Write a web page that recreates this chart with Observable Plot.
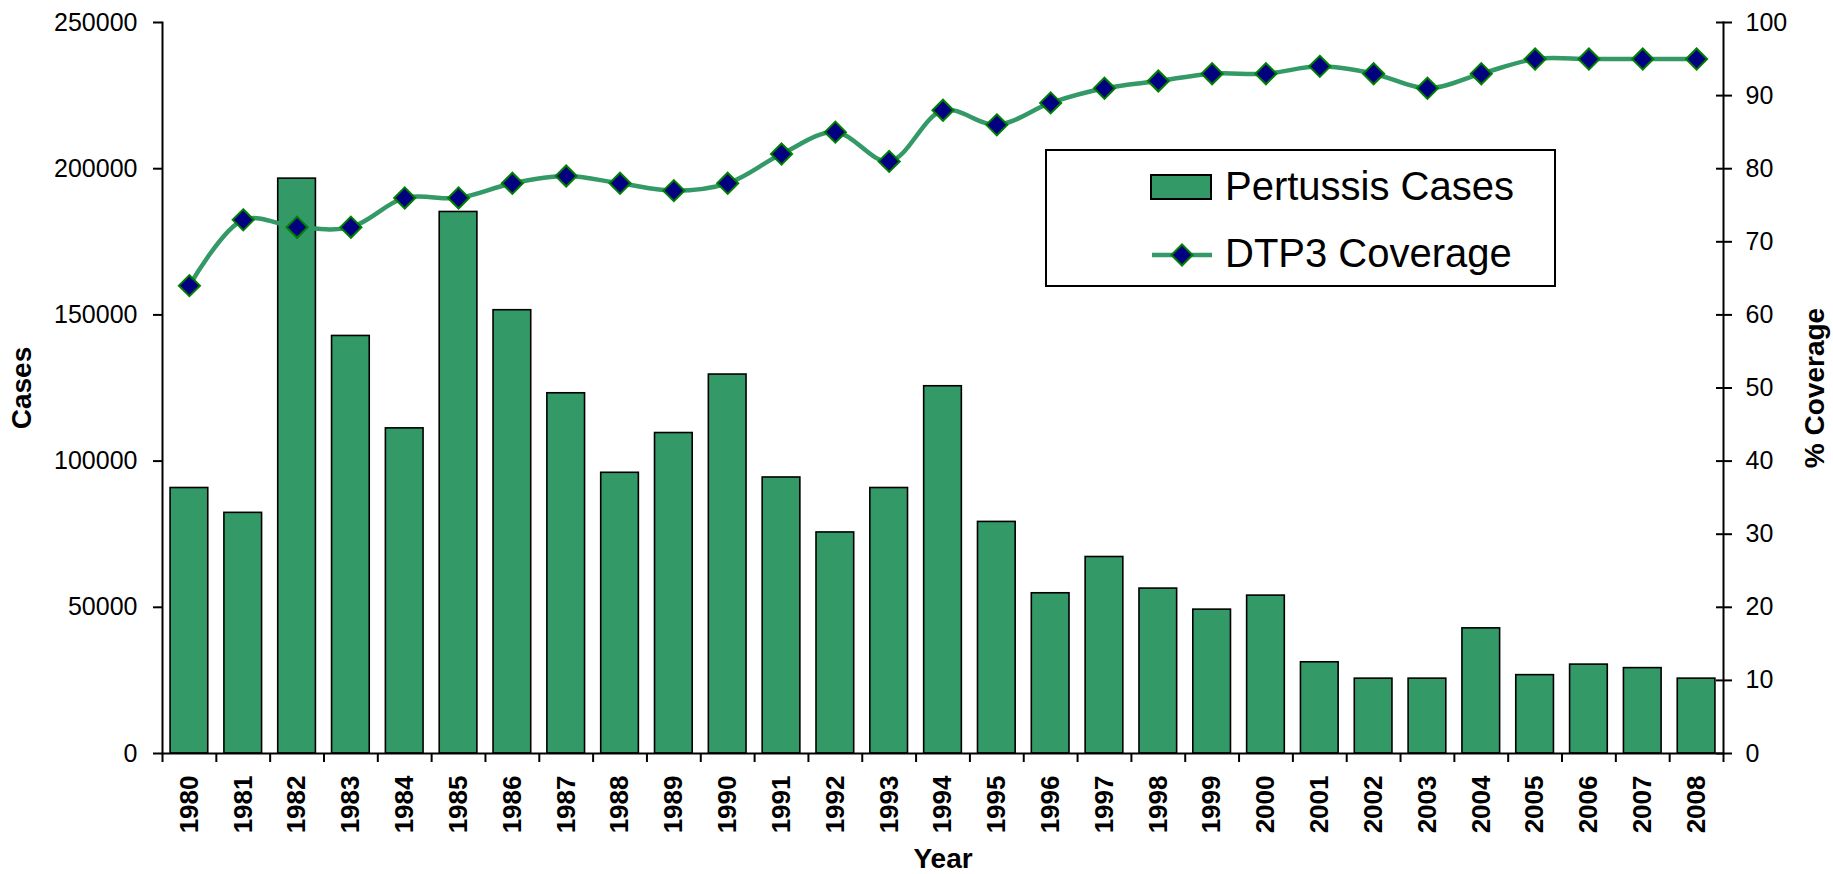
<!DOCTYPE html>
<html>
<head>
<meta charset="utf-8">
<script src="https://cdn.jsdelivr.net/npm/d3@7"></script>
<script src="https://cdn.jsdelivr.net/npm/@observablehq/plot@0.6"></script>
<style>
  html, body { margin: 0; padding: 0; background: #fff; }
  #wrap { position: relative; width: 1833px; height: 874px; }
  #wrap > svg { position: absolute; left: 0; top: 0; }
</style>
</head>
<body>
<div id="wrap"></div>
<script>
// ---- data ----
const years = [1980, 1981, 1982, 1983, 1984, 1985, 1986, 1987, 1988, 1989,
               1990, 1991, 1992, 1993, 1994, 1995, 1996, 1997, 1998, 1999,
               2000, 2001, 2002, 2003, 2004, 2005, 2006, 2007, 2008];
const pertussisCases = [90800, 82300, 196600, 142800, 111200, 185200, 151600, 123200, 96000, 109600,
                        129600, 94400, 75600, 90800, 125600, 79200, 54800, 67200, 56400, 49200,
                        54000, 31200, 25600, 25600, 42800, 26800, 30400, 29200, 25600];
const dtp3Coverage = [64, 73, 72, 72, 76, 76, 78, 79, 78, 77,
                      78, 82, 85, 81, 88, 86, 89, 91, 92, 93,
                      93, 94, 93, 91, 93, 95, 95, 95, 95];
const casesTicks = [0, 50000, 100000, 150000, 200000, 250000];
const coverageTicks = [0, 10, 20, 30, 40, 50, 60, 70, 80, 90, 100];

const rows = years.map((year, i) => ({year, cases: pertussisCases[i], coverage: dtp3Coverage[i]}));

// ---- layout ----
const W = 1833, H = 874;
const mL = 162, mR = 110, mT = 22, mB = 121;
const step = (W - mL - mR) / years.length;
const GREEN = "#339966";
const FONT = "'Liberation Sans', Arial, sans-serif";
const NARROW = "'Liberation Sans Narrow', 'Arial Narrow', 'Liberation Sans', Arial, sans-serif";

const xScale = {type: "band", domain: years, paddingInner: 0.3, paddingOuter: 0.15, round: false};
const common = {
  width: W, height: H, marginLeft: mL, marginRight: mR, marginTop: mT, marginBottom: mB,
  style: {fontFamily: FONT, background: "transparent", overflow: "visible", color: "#000"}
};

// Chart 1: bars, left axis, x axis
const bars = Plot.plot({
  ...common,
  x: xScale,
  y: {domain: [0, 250000]},
  marks: [
    Plot.barY(rows, {x: "year", y: "cases", fill: GREEN, stroke: "#000", strokeWidth: 1.6}),
    Plot.frame({anchor: "left", stroke: "#000", strokeWidth: 2}),
    Plot.ruleY([0], {stroke: "#000", strokeWidth: 2}),
    Plot.axisY({ticks: casesTicks, tickSize: 9, tickPadding: 16, tickFormat: d => String(d),
                fontSize: 25, label: null, strokeWidth: 2}),
    Plot.axisX({tickSize: 0, tickPadding: 22, tickRotate: -90, tickFormat: d => String(d),
                fontSize: 26, fontWeight: "bold", fontFamily: NARROW, label: null}),
    Plot.axisX({tickSize: 9, tickFormat: () => "", dx: step / 2, label: null, strokeWidth: 2}),
    Plot.axisX([years[0]], {tickSize: 9, tickFormat: () => "", dx: -step / 2, label: null, strokeWidth: 2}),
    Plot.text(["Cases"], {frameAnchor: "left", dx: -140, rotate: -90, fontSize: 28,
                          fontWeight: "bold", fontFamily: NARROW, textAnchor: "middle"}),
    Plot.text(["Year"], {frameAnchor: "bottom", dy: 114, fontSize: 28,
                         fontWeight: "bold", fontFamily: NARROW, textAnchor: "middle"})
  ]
});

// Chart 2: coverage line, right axis
const line = Plot.plot({
  ...common,
  x: xScale,
  y: {domain: [0, 100]},
  marks: [
    Plot.frame({anchor: "right", stroke: "#000", strokeWidth: 2}),
    Plot.axisY({anchor: "right", ticks: coverageTicks, tickSize: 16, dx: -8, tickPadding: 14,
                fontSize: 25, label: null, strokeWidth: 2}),
    Plot.axisX({tickSize: 0, tickFormat: () => "", label: null}),
    Plot.line(rows, {x: "year", y: "coverage", curve: "catmull-rom", stroke: GREEN, strokeWidth: 4.5}),
    Plot.dot(rows, {x: "year", y: "coverage", symbol: "diamond2", r: 9.5,
                    fill: "#000080", stroke: "#008000", strokeWidth: 2}),
    Plot.text(["% Coverage"], {frameAnchor: "right", dx: 92, rotate: -90, fontSize: 28,
                               fontWeight: "bold", fontFamily: NARROW, textAnchor: "middle"})
  ]
});

const wrap = document.getElementById("wrap");
wrap.appendChild(bars);
wrap.appendChild(line);

// Legend
const leg = d3.create("svg").attr("width", W).attr("height", H)
  .style("position", "absolute").style("left", 0).style("top", 0)
  .style("font-family", FONT);
leg.append("rect").attr("x", 1046).attr("y", 150).attr("width", 509).attr("height", 136)
  .attr("fill", "#fff").attr("stroke", "#000").attr("stroke-width", 2);
leg.append("rect").attr("x", 1151).attr("y", 175).attr("width", 60).attr("height", 24)
  .attr("fill", GREEN).attr("stroke", "#000").attr("stroke-width", 2);
leg.append("text").attr("x", 1225).attr("y", 200).attr("font-size", 40).text("Pertussis Cases");
leg.append("line").attr("x1", 1152).attr("x2", 1212).attr("y1", 255).attr("y2", 255)
  .attr("stroke", GREEN).attr("stroke-width", 4.5);
leg.append("path").attr("d", d3.symbol(d3.symbolDiamond2, Math.PI * 9.5 * 9.5)())
  .attr("transform", "translate(1182,255)")
  .attr("fill", "#000080").attr("stroke", "#008000").attr("stroke-width", 2);
leg.append("text").attr("x", 1225).attr("y", 267).attr("font-size", 40).text("DTP3 Coverage");
wrap.appendChild(leg.node());
</script>
</body>
</html>
